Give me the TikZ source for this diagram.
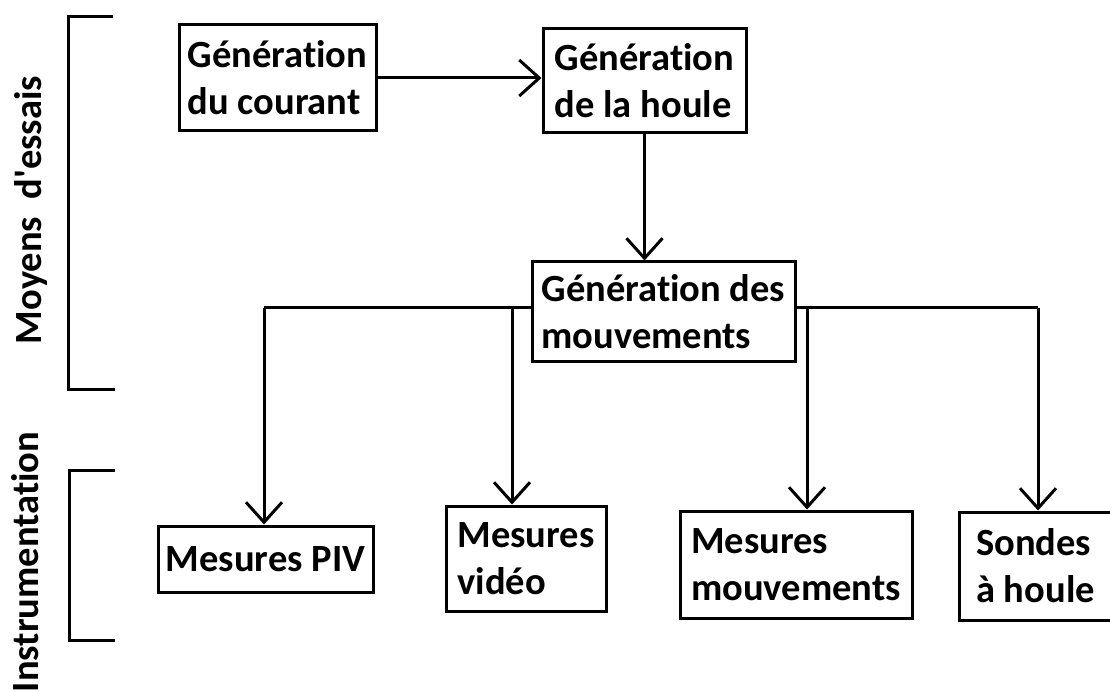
\documentclass[tikz,border=0pt]{standalone}
\usepackage{fontspec}
\setmainfont{Carlito}[Ligatures={NoCommon,TeXOff}]
\usetikzlibrary{arrows.meta}
\begin{document}
\begin{tikzpicture}[x=1pt,y=-1pt,
  lbl/.style={font=\bfseries\fontsize{38.5}{47}\selectfont},
  box/.style={lbl, draw, line width=3pt, align=left, inner sep=0pt},
  conn/.style={line width=3pt},
  arr/.style={conn, -{Straight Barb[length=20pt,width=36pt,line width=3pt]}},
  brk/.style={line width=3pt}]
\clip (0,0) rectangle (1110,692);
\useasboundingbox (0,0) rectangle (1110,692);
% boxes
\node[box, minimum width=197pt, minimum height=106pt] (A) at (277.5,78) {Génération\\du courant};
\node[box, minimum width=203pt, minimum height=104pt] (B) at (644.5,81) {Génération\\de la houle};
\node[box, minimum width=263pt, minimum height=99pt] (C) at (663.5,311.5) {Génération des\\mouvements};
\node[box, minimum width=215pt, minimum height=66pt] (D) at (265.5,559) {Mesures PIV};
\node[box, minimum width=160pt, minimum height=105pt] (E) at (526,558.5) {Mesures\\vidéo};
\node[box, minimum width=232pt, minimum height=107pt] (F) at (796,564.5) {Mesures\\mouvements};
\node[box, minimum width=153pt, minimum height=108pt] (G) at (1035.5,566) {Sondes\\à houle};
% side labels
\node[lbl, rotate=90, anchor=base] (L1) at (41,210) {Moyens\ \ d'essais};
\node[lbl, rotate=90, anchor=base] (L2) at (38,562) {Instrumentation};
% brackets
\coordinate (b1t) at (113,17);
\coordinate (b1b) at (115,389);
\coordinate (b2t) at (115,470);
\coordinate (b2b) at (115,640);
\draw[brk] (b1t) -- (68.5,17) -- (68.5,389) -- (b1b);
\draw[brk] (b2t) -- (69,470) -- (69,640) -- (b2b);
% connectors
\draw[arr] (A.east) -- (A.east -| B.west);
\draw[arr] (B.south) -- (B.south |- C.north);
\coordinate (jl) at (264,308);
\coordinate (jm) at (512,308);
\coordinate (jr) at (807,308);
\coordinate (jg) at (1038,308);
\draw[conn] (C.west |- jl) -- (jl);
\draw[arr] (jl) -- (jl |- D.north);
\draw[arr] (jm) -- (jm |- E.north);
\draw[conn] (C.east |- jg) -- (jg);
\draw[arr] (jr) -- (jr |- F.north);
\draw[arr] (jg) -- (jg |- G.north);
\end{tikzpicture}
\end{document}
